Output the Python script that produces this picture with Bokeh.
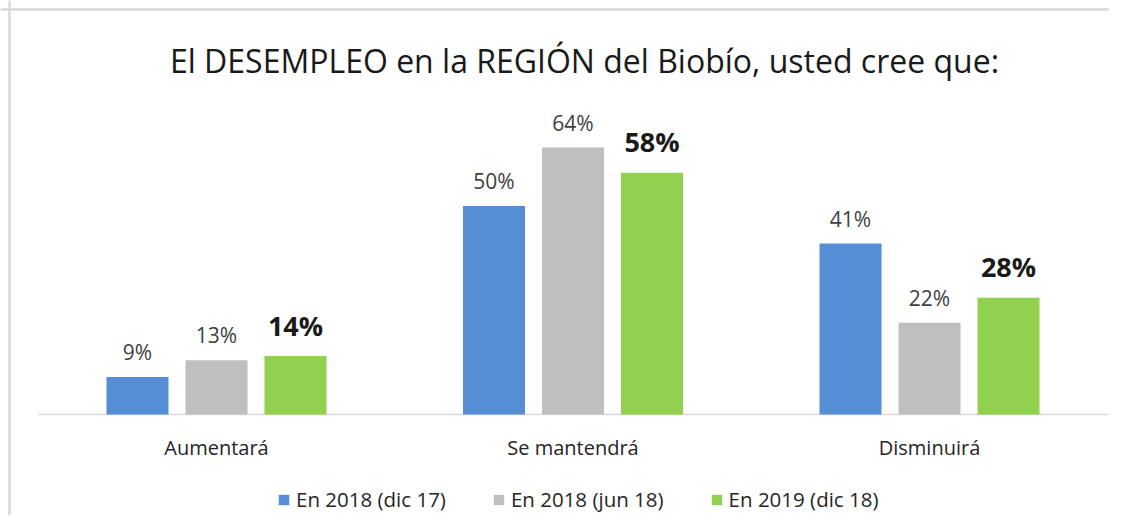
from bokeh.plotting import figure
from bokeh.models import ColumnDataSource, Legend, LegendItem, Span
from bokeh.core.properties import value
from bokeh.embed import file_html
from bokeh.resources import INLINE

title_text = "El DESEMPLEO en la REGIÓN del Biobío, usted cree que:"
categories = ["Aumentará", "Se mantendrá", "Disminuirá"]
series_names = ["En 2018 (dic 17)", "En 2018 (jun 18)", "En 2019 (dic 18)"]
dic17 = [9, 50, 41]
jun18 = [13, 64, 22]
dic18 = [14, 58, 28]
colors = ["#558ED5", "#BFBFBF", "#92D050"]

FONT = "Open Sans"
TXT = "#262626"

idx = list(range(len(categories)))

W, H = 1109, 515
PX_X = 356.5   # pixels per category
PX_Y = 4.17    # pixels per percentage point
BASE_X, BASE_Y = 216, 414  # pixel position of first category centre / baseline
x0 = -BASE_X / PX_X
x1 = (W - BASE_X) / PX_X
y0 = -(H - BASE_Y) / PX_Y
y1 = BASE_Y / PX_Y

p = figure(width=W, height=H, x_range=(x0, x1), y_range=(y0, y1),
           output_backend="svg", toolbar_location=None,
           min_border_left=0, min_border_right=0, min_border_top=0, min_border_bottom=0)
p.xaxis.visible = False
p.yaxis.visible = False
p.xgrid.visible = False
p.ygrid.visible = False
p.outline_line_color = None
p.background_fill_color = "white"
p.border_fill_color = "white"

# chart border (top and left edges visible in reference)
p.add_layout(Span(location=y1 - 9 / PX_Y, dimension="width", line_color="#d9d9d9", line_width=2.5))
p.add_layout(Span(location=x0 + 9 / PX_X, dimension="height", line_color="#d9d9d9", line_width=2.5))

# title
p.text(x=[(584 - BASE_X) / PX_X], y=[(BASE_Y - 60) / PX_Y], text=[title_text],
       text_align="center", text_baseline="middle",
       text_font=value(FONT), text_font_size="32px", text_color="#1a1a1a")

# baseline (category axis)
p.segment(x0=[idx[0] - 0.5], y0=[0], x1=[idx[-1] + 0.5], y1=[0], line_color="#d9d9d9", line_width=1.5)

# category labels
p.text(x=idx, y=[0] * len(idx), text=categories, text_align="center", text_baseline="middle",
       y_offset=33, text_font=value(FONT), text_font_size="20px", text_color=TXT)

offsets = [-0.2216, 0.0, 0.2216]
series = [dic17, jun18, dic18]
renderers = []
for k, (off, vals, color) in enumerate(zip(offsets, series, colors)):
    xs = [i + off for i in idx]
    src = ColumnDataSource(dict(x=xs, top=vals, lab=[f"{v}%" for v in vals]))
    r = p.vbar(x="x", top="top", width=0.174, source=src, fill_color=color, line_color=None)
    renderers.append(r)
    bold = k == 2
    p.text(x="x", y="top", text="lab", source=src, text_align="center", text_baseline="middle",
           y_offset=-31 if bold else -25,
           text_font=value(FONT), text_font_size="27px" if bold else "21px",
           text_font_style="bold" if bold else "normal",
           text_color="#1a1a1a" if bold else "#404040")

legend = Legend(items=[LegendItem(label=n, renderers=[r]) for n, r in zip(series_names, renderers)],
                orientation="horizontal", location=(277, 2), border_line_color=None,
                background_fill_alpha=0, label_text_font=FONT, label_text_font_size="20.5px",
                label_text_color=TXT, glyph_width=13, glyph_height=13, spacing=46,
                label_standoff=6, padding=0, margin=0)
p.add_layout(legend)

open("out.html", "w").write(file_html(p, INLINE))
